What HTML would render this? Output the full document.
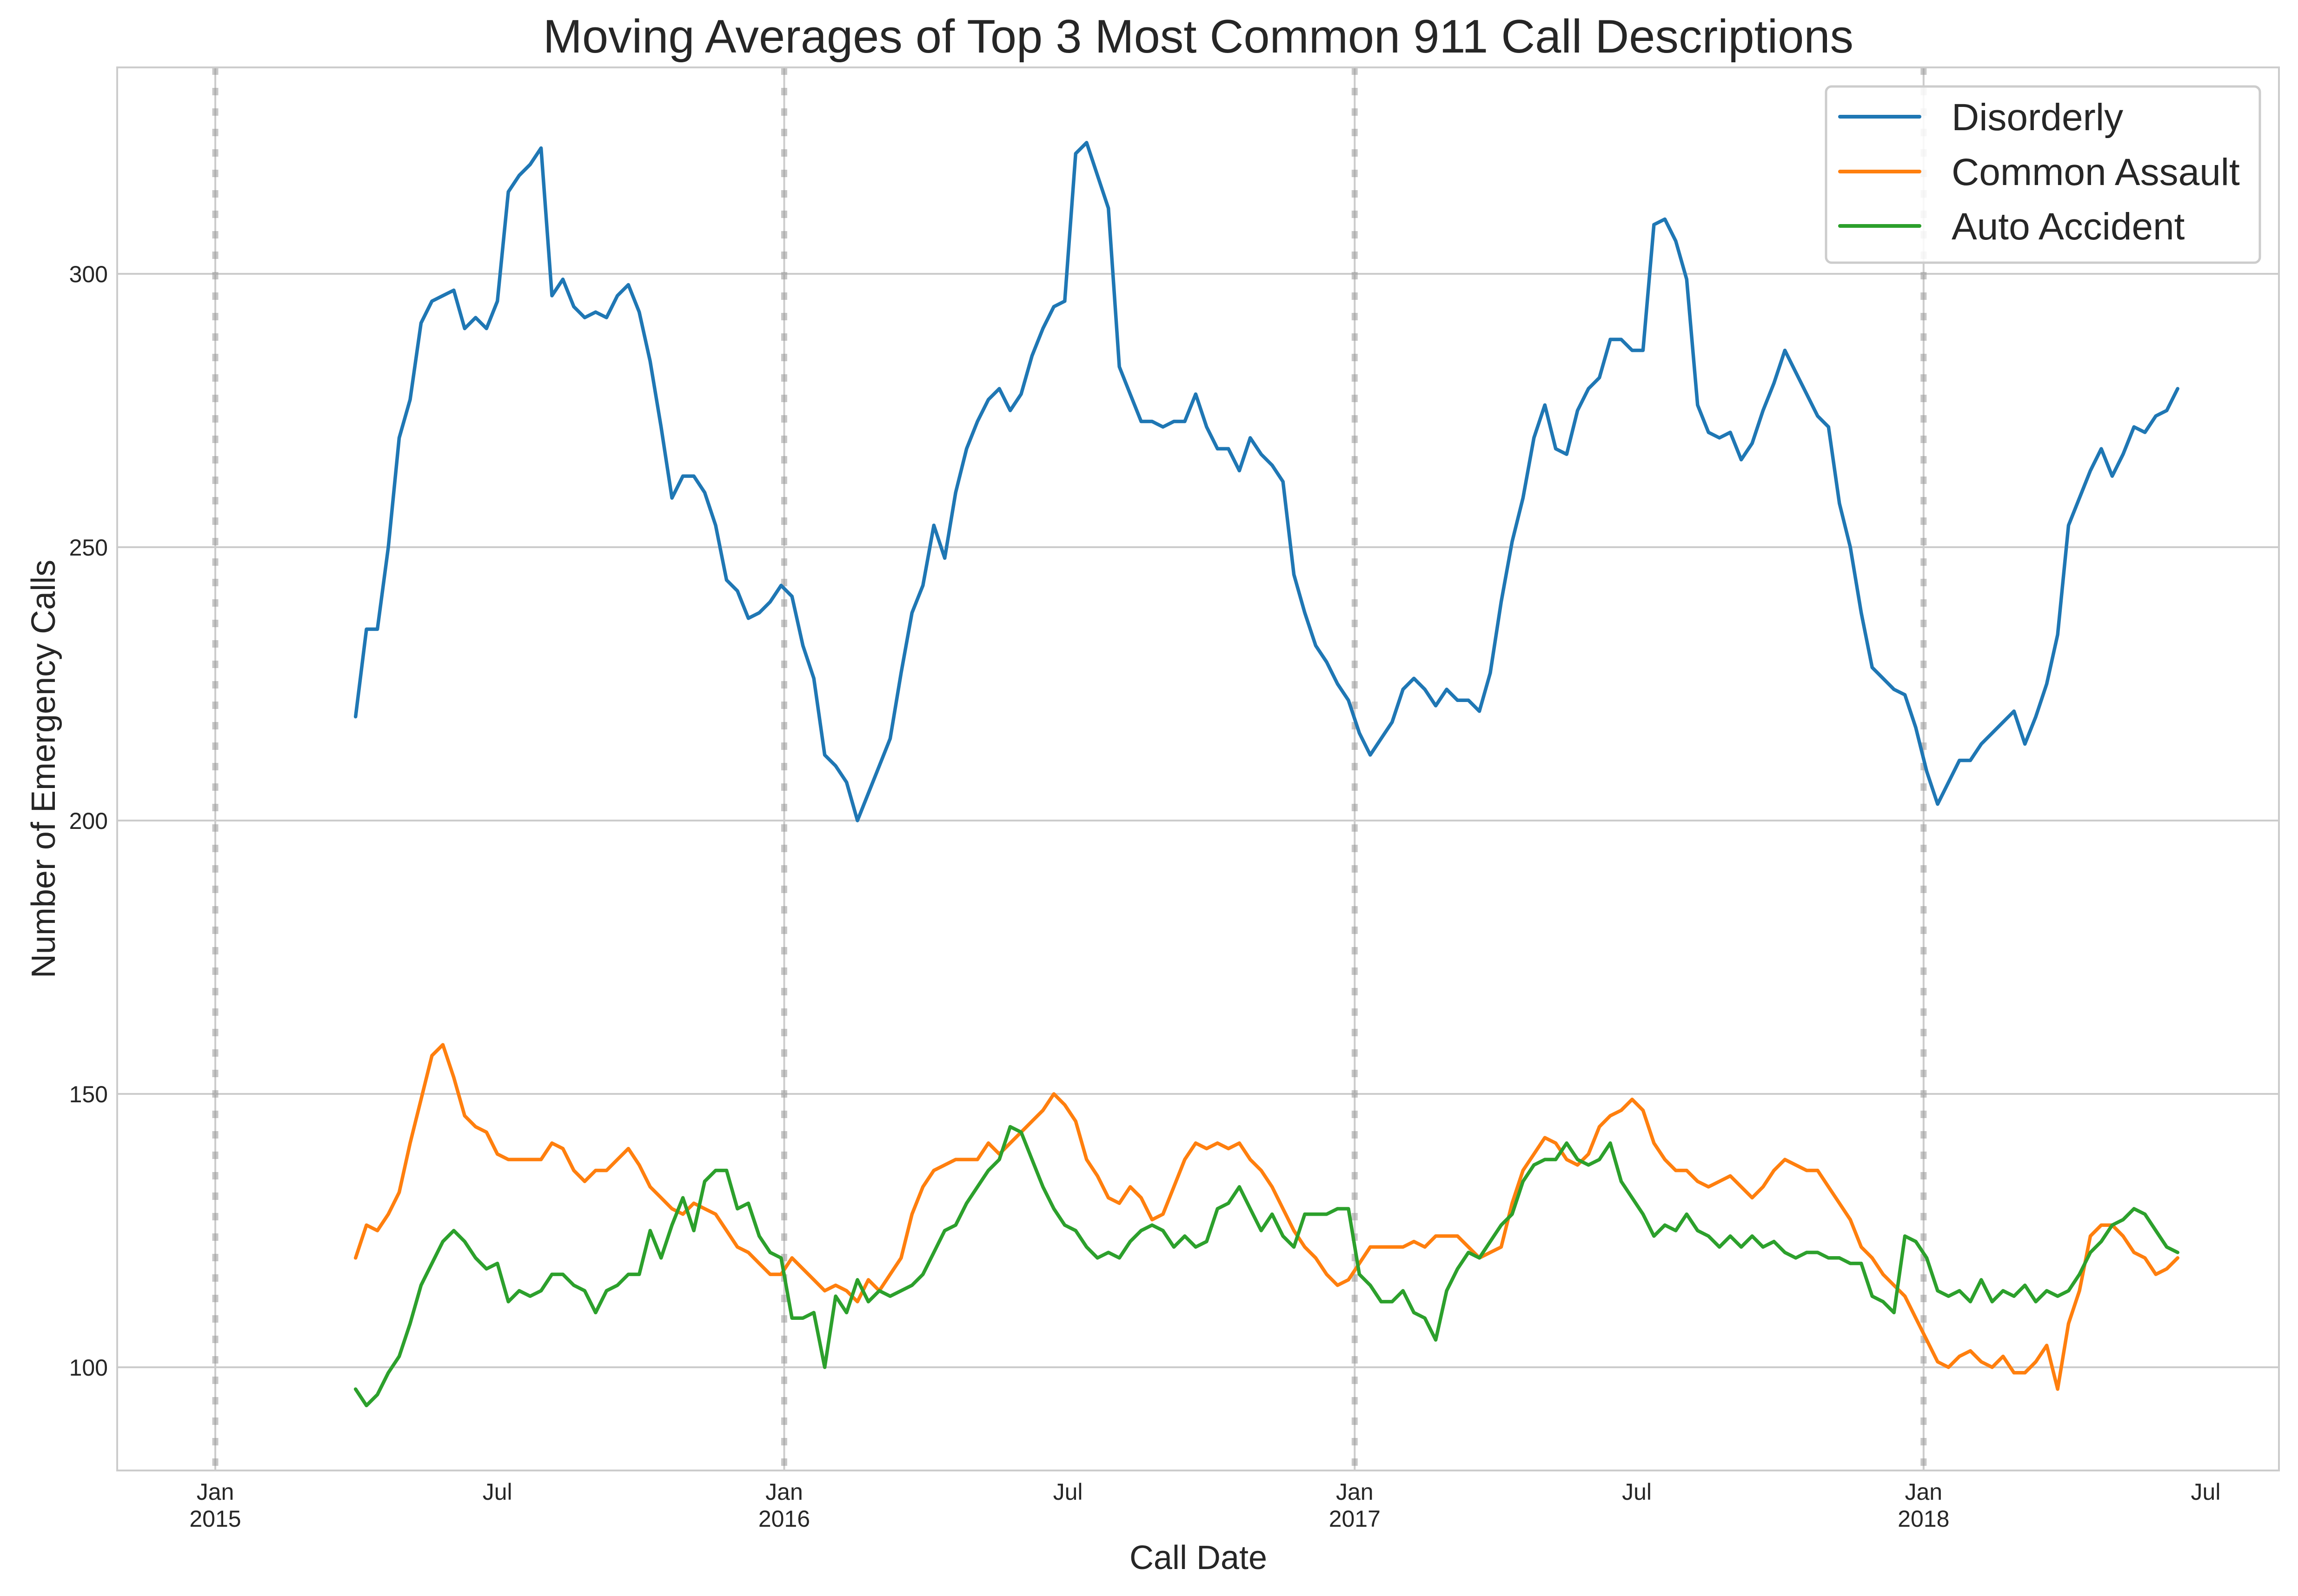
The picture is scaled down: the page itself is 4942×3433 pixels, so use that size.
<!DOCTYPE html>
<html><head><meta charset="utf-8"><style>
html,body{margin:0;padding:0;background:#fff}
svg{display:block;font-family:"Liberation Sans",Arial,sans-serif}
</style></head><body>
<svg id="chart" width="4942" height="3433" viewBox="0 0 4942 3433" xmlns="http://www.w3.org/2000/svg">
<rect width="4942" height="3433" fill="#fff"/>
<g id="grid"></g>
<g id="vlines"></g>
<g id="series"></g>
<rect x="252" y="145" width="4649" height="3018" fill="none" stroke="#cccccc" stroke-width="4"/>
<g id="ticks"></g>
<text x="2577" y="113" font-size="101" text-anchor="middle" fill="#262626">Moving Averages of Top 3 Most Common 911 Call Descriptions</text>
<text x="2577" y="3375" font-size="72" text-anchor="middle" fill="#262626">Call Date</text>
<text transform="translate(118,1654) rotate(-90)" font-size="72" text-anchor="middle" fill="#262626">Number of Emergency Calls</text>
<g>
<rect x="3927" y="186" width="933" height="379" rx="12" fill="#fff" fill-opacity="0.85" stroke="#cccccc" stroke-width="5"/>
<g><line x1="3957" y1="251" x2="4128" y2="251" stroke="#1f77b4" stroke-width="8" stroke-linecap="round"/><text x="4197" y="280" font-size="82" fill="#262626">Disorderly</text></g>
<g><line x1="3957" y1="369" x2="4128" y2="369" stroke="#ff7f0e" stroke-width="8" stroke-linecap="round"/><text x="4197" y="398" font-size="82" fill="#262626">Common Assault</text></g>
<g><line x1="3957" y1="486" x2="4128" y2="486" stroke="#2ca02c" stroke-width="8" stroke-linecap="round"/><text x="4197" y="515" font-size="82" fill="#262626">Auto Accident</text></g>
</g>
</svg>
<script>
const startDay = 90; // days after 2015-01-01
const stepDays = 7;
const disorderly = [219,235,235,250,270,277,291,295,296,297,290,292,290,295,315,318,320,323,296,299,294,292,293,292,296,298,293,284,272,259,263,263,260,254,244,242,237,238,240,243,241,232,226,212,210,207,200,205,210,215,227,238,243,254,248,260,268,273,277,279,275,278,285,290,294,295,322,324,318,312,283,278,273,273,272,273,273,278,272,268,268,264,270,267,265,262,245,238,232,229,225,222,216,212,215,218,224,226,224,221,224,222,222,220,227,240,251,259,270,276,268,267,275,279,281,288,288,286,286,309,310,306,299,276,271,270,271,266,269,275,280,286,282,278,274,272,258,250,238,228,226,224,223,217,209,203,207,211,211,214,216,218,220,214,219,225,234,254,259,264,268,263,267,272,271,274,275,279];
const commonAssault = [120,126,125,128,132,141,149,157,159,153,146,144,143,139,138,138,138,138,141,140,136,134,136,136,138,140,137,133,131,129,128,130,129,128,125,122,121,119,117,117,120,118,116,114,115,114,112,116,114,117,120,128,133,136,137,138,138,138,141,139,141,143,145,147,150,148,145,138,135,131,130,133,131,127,128,133,138,141,140,141,140,141,138,136,133,129,125,122,120,117,115,116,119,122,122,122,122,123,122,124,124,124,122,120,121,122,130,136,139,142,141,138,137,139,144,146,147,149,147,141,138,136,136,134,133,134,135,133,131,133,136,138,137,136,136,133,130,127,122,120,117,115,113,109,105,101,100,102,103,101,100,102,99,99,101,104,96,108,114,124,126,126,124,121,120,117,118,120];
const autoAccident = [96,93,95,99,102,108,115,119,123,125,123,120,118,119,112,114,113,114,117,117,115,114,110,114,115,117,117,125,120,126,131,125,134,136,136,129,130,124,121,120,109,109,110,100,113,110,116,112,114,113,114,115,117,121,125,126,130,133,136,138,144,143,138,133,129,126,125,122,120,121,120,123,125,126,125,122,124,122,123,129,130,133,129,125,128,124,122,128,128,128,129,129,117,115,112,112,114,110,109,105,114,118,121,120,123,126,128,134,137,138,138,141,138,137,138,141,134,131,128,124,126,125,128,125,124,122,124,122,124,122,123,121,120,121,121,120,120,119,119,113,112,110,124,123,120,114,113,114,112,116,112,114,113,115,112,114,113,114,117,121,123,126,127,129,128,125,122,121];
const yTicks = [100,150,200,250,300];
const xTickDays = [0,181,365,547,731,912,1096,1277];
const xTickLabels = [["Jan","2015"],["Jul",""],["Jan","2016"],["Jul",""],["Jan","2017"],["Jul",""],["Jan","2018"],["Jul",""]];
const yearMarkerDays = [0,365,731,1096];

const NS = "http://www.w3.org/2000/svg";
const X = d => 463 + d * 3.352;
const Y = v => 2941 - (v - 100) * 11.76;
function mk(tag, attrs, parent){const e=document.createElementNS(NS,tag);for(const k in attrs)e.setAttribute(k,attrs[k]);parent.appendChild(e);return e;}

const grid = document.getElementById('grid');
const ticks = document.getElementById('ticks');
yTicks.forEach(v=>{
  const l = mk('line',{x1:252,x2:4901,y1:Y(v),y2:Y(v),stroke:'#cccccc','stroke-width':4},grid);
  
  
  const t = mk('text',{x:232,y:Y(v)+18,'font-size':50,'text-anchor':'end',fill:'#262626'},ticks);
  t.textContent = v;
  
  
});
xTickDays.forEach((d,i)=>{
  const t = mk('text',{x:X(d),y:3226,'font-size':50,'text-anchor':'middle',fill:'#262626'},ticks);
  t.textContent = xTickLabels[i][0];
  
  
  if(xTickLabels[i][1]){
    const t2 = mk('text',{x:X(d),y:3284,'font-size':50,'text-anchor':'middle',fill:'#262626'},ticks);
    t2.textContent = xTickLabels[i][1];
    
    
  }
});
const vl = document.getElementById('vlines');
yearMarkerDays.forEach(d=>{
  const a = mk('line',{x1:X(d),x2:X(d),y1:145,y2:3163,stroke:'#cccccc','stroke-width':4},vl);
  
  
  const b = mk('line',{x1:X(d),x2:X(d),y1:145,y2:3163,stroke:'#999999','stroke-opacity':0.55,'stroke-width':13,'stroke-dasharray':'16 28'},vl);
  
  
});
const sg = document.getElementById('series');
function draw(vals,color,name){
  const pts = vals.map((v,i)=>X(startDay+i*stepDays).toFixed(1)+','+Y(v).toFixed(1)).join(' ');
  const p = mk('polyline',{points:pts,fill:'none',stroke:color,'stroke-width':7.5,'stroke-linejoin':'round','stroke-linecap':'round'},sg);
  
  
}
draw(disorderly,'#1f77b4','disorderly-line');
draw(commonAssault,'#ff7f0e','common-assault-line');
draw(autoAccident,'#2ca02c','auto-accident-line');
</script>
</body></html>
